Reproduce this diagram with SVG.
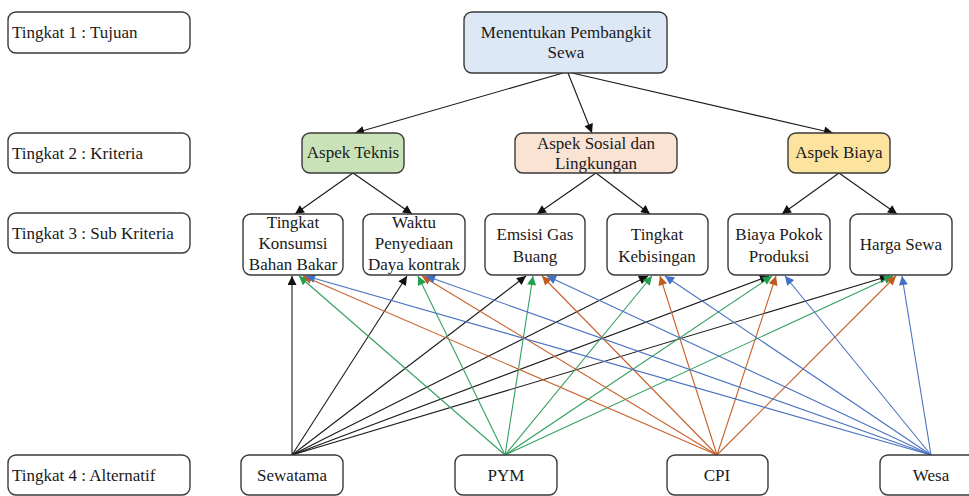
<svg xmlns="http://www.w3.org/2000/svg" width="969" height="496" viewBox="0 0 969 496" font-family="'Liberation Serif', 'Times New Roman', Tinos, 'DejaVu Serif', 'Noto Serif', serif">
<defs>
<style>
.box{stroke:#3a3a3a;stroke-width:1.4;fill:#fff}
text{font-size:17px;fill:#1a1a1a}
.c{text-anchor:middle}
.k{stroke:#1a1a1a;stroke-width:1.1;fill:none}
.g{stroke:#33a060;stroke-width:1.1;fill:none}
.o{stroke:#c8602a;stroke-width:1.1;fill:none}
.b{stroke:#4a72c0;stroke-width:1.1;fill:none}
</style>
<marker id="mk" viewBox="0 0 10 10" refX="10" refY="5" markerWidth="11" markerHeight="9" orient="auto" markerUnits="userSpaceOnUse"><path d="M0,0L10,5L0,10z" fill="#111"/></marker>
<marker id="mg" viewBox="0 0 10 10" refX="10" refY="5" markerWidth="11" markerHeight="9" orient="auto" markerUnits="userSpaceOnUse"><path d="M0,0L10,5L0,10z" fill="#22a050"/></marker>
<marker id="mo" viewBox="0 0 10 10" refX="10" refY="5" markerWidth="11" markerHeight="9" orient="auto" markerUnits="userSpaceOnUse"><path d="M0,0L10,5L0,10z" fill="#c05a1e"/></marker>
<marker id="mb" viewBox="0 0 10 10" refX="10" refY="5" markerWidth="11" markerHeight="9" orient="auto" markerUnits="userSpaceOnUse"><path d="M0,0L10,5L0,10z" fill="#4170c8"/></marker>
</defs>
<rect width="969" height="496" fill="#fff"/>

<g id="connectors">
<g class="k" marker-end="url(#mk)">
<line x1="563" y1="73" x2="355" y2="133"/>
<line x1="568" y1="73" x2="592" y2="133"/>
<line x1="572" y1="73" x2="833" y2="133"/>
<line x1="353" y1="173" x2="295" y2="214"/>
<line x1="353" y1="173" x2="412" y2="214"/>
<line x1="596" y1="173" x2="537" y2="214"/>
<line x1="596" y1="173" x2="650" y2="214"/>
<line x1="839" y1="173" x2="782" y2="214"/>
<line x1="839" y1="173" x2="897" y2="214"/>
</g>
<g class="k" marker-end="url(#mk)">
<line x1="292" y1="455" x2="292" y2="276"/>
<line x1="292" y1="455" x2="407" y2="276"/>
<line x1="292" y1="455" x2="526" y2="276"/>
<line x1="292" y1="455" x2="648" y2="276"/>
<line x1="292" y1="455" x2="769" y2="276"/>
<line x1="292" y1="455" x2="889" y2="276"/>
</g>
<g class="g" marker-end="url(#mg)">
<line x1="505" y1="455" x2="299" y2="276"/>
<line x1="505" y1="455" x2="418" y2="276"/>
<line x1="505" y1="455" x2="533" y2="276"/>
<line x1="505" y1="455" x2="652" y2="276"/>
<line x1="505" y1="455" x2="772" y2="276"/>
<line x1="505" y1="455" x2="893" y2="276"/>
</g>
<g class="o" marker-end="url(#mo)">
<line x1="717" y1="455" x2="303" y2="276"/>
<line x1="717" y1="455" x2="422" y2="276"/>
<line x1="717" y1="455" x2="542" y2="276"/>
<line x1="717" y1="455" x2="660" y2="276"/>
<line x1="717" y1="455" x2="776" y2="276"/>
<line x1="717" y1="455" x2="896" y2="276"/>
</g>
<g class="b" marker-end="url(#mb)">
<line x1="931" y1="455" x2="306" y2="276"/>
<line x1="931" y1="455" x2="426" y2="276"/>
<line x1="931" y1="455" x2="547" y2="276"/>
<line x1="931" y1="455" x2="665" y2="276"/>
<line x1="931" y1="455" x2="785" y2="276"/>
<line x1="931" y1="455" x2="902" y2="276"/>
</g>
</g>

<g id="label1"><rect class="box" x="8" y="12" width="182" height="41" rx="8"/><text x="12" y="38">Tingkat 1 : Tujuan</text></g>
<g id="label2"><rect class="box" x="8" y="133" width="182" height="40" rx="8"/><text x="12" y="159">Tingkat 2 : Kriteria</text></g>
<g id="label3"><rect class="box" x="8" y="213" width="182" height="40" rx="8"/><text x="12" y="239">Tingkat 3 : Sub Kriteria</text></g>
<g id="label4"><rect class="box" x="8" y="455" width="182" height="40" rx="8"/><text x="12" y="481">Tingkat 4 : Alternatif</text></g>

<g id="goal"><rect class="box" x="464" y="12" width="203" height="61" rx="8" style="fill:#dce8f6"/><text class="c" x="566" y="38">Menentukan Pembangkit</text><text class="c" x="566" y="58">Sewa</text></g>

<g id="teknis"><rect class="box" x="302" y="133" width="102" height="40" rx="8" style="fill:#c9e2b8"/><text class="c" x="353" y="158">Aspek Teknis</text></g>
<g id="sosial"><rect class="box" x="515" y="133" width="162" height="40" rx="8" style="fill:#fbe3d4"/><text class="c" x="596" y="149">Aspek Sosial dan</text><text class="c" x="596" y="169">Lingkungan</text></g>
<g id="biaya"><rect class="box" x="788" y="133" width="102" height="40" rx="8" style="fill:#fde49e"/><text class="c" x="839" y="158">Aspek Biaya</text></g>

<g id="konsumsi"><rect class="box" x="243" y="214" width="100" height="61" rx="8"/><text class="c" x="293" y="228">Tingkat</text><text class="c" x="293" y="249">Konsumsi</text><text class="c" x="293" y="270">Bahan Bakar</text></g>
<g id="waktu"><rect class="box" x="363" y="214" width="102" height="61" rx="8"/><text class="c" x="414" y="228">Waktu</text><text class="c" x="414" y="249">Penyediaan</text><text class="c" x="414" y="270">Daya kontrak</text></g>
<g id="emisi"><rect class="box" x="485" y="214" width="100" height="61" rx="8"/><text class="c" x="535" y="240">Emsisi Gas</text><text class="c" x="535" y="262">Buang</text></g>
<g id="kebisingan"><rect class="box" x="607" y="214" width="101" height="61" rx="8"/><text class="c" x="657" y="240">Tingkat</text><text class="c" x="657" y="262">Kebisingan</text></g>
<g id="bpp"><rect class="box" x="728" y="214" width="102" height="61" rx="8"/><text class="c" x="779" y="240">Biaya Pokok</text><text class="c" x="779" y="262">Produksi</text></g>
<g id="harga"><rect class="box" x="850" y="214" width="102" height="61" rx="8"/><text class="c" x="901" y="250">Harga Sewa</text></g>

<g id="sewatama"><rect class="box" x="241" y="455" width="102" height="40" rx="8"/><text class="c" x="292" y="481">Sewatama</text></g>
<g id="pym"><rect class="box" x="455" y="455" width="102" height="40" rx="8"/><text class="c" x="506" y="481">PYM</text></g>
<g id="cpi"><rect class="box" x="667" y="455" width="101" height="40" rx="8"/><text class="c" x="717" y="481">CPI</text></g>
<g id="wesa"><rect class="box" x="880" y="455" width="102" height="40" rx="8"/><text class="c" x="931" y="481">Wesa</text></g>
</svg>
